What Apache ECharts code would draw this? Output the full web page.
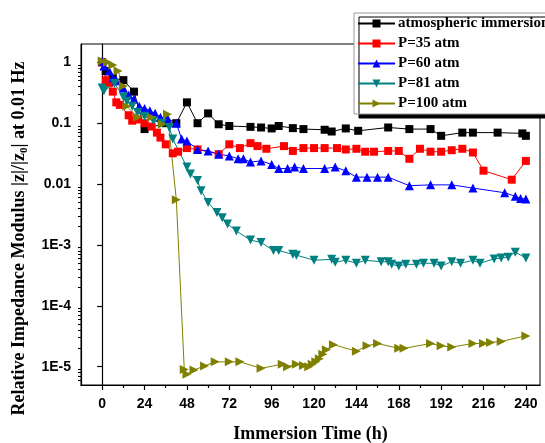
<!DOCTYPE html>
<html lang="en">
<head>
    <meta charset="UTF-8">
    <title>impedance_modulus</title>
    <script src="https://cdn.jsdelivr.net/npm/echarts@6/dist/echarts.min.js"></script>
    <style>
        html,body{margin:0;padding:0;background:#fff}
        #chart{width:545px;height:443px}
    </style>
</head>
<body>
    <div id="chart"></div>
    <script>
        // data: [time (h), |z|/|z0|]
        var names = ['atmospheric immersion', 'P=35 atm', 'P=60 atm', 'P=81 atm', 'P=100 atm'];
        var atmospheric = [[0,1.0],[2,0.72],[6,0.55],[12,0.51],[18,0.33],[24,0.08],[36,0.1],[42,0.1],[48,0.22],[54,0.1],[60,0.145],[66,0.096],[72,0.09],[84,0.087],[90,0.085],[96,0.082],[100,0.09],[108,0.083],[114,0.08],[126,0.078],[130,0.073],[138,0.082],[145,0.075],[162,0.085],[174,0.08],[186,0.08],[192,0.062],[204,0.07],[210,0.07],[224,0.07],[238,0.068],[240,0.062]];
        var p35 = [[0,1.0],[2,0.51],[4,0.46],[6,0.33],[8,0.22],[10,0.2],[15,0.135],[17,0.11],[20,0.115],[24,0.1],[28,0.088],[31,0.07],[33,0.058],[36,0.045],[40,0.032],[43,0.034],[48,0.039],[54,0.037],[66,0.031],[72,0.045],[78,0.039],[84,0.047],[88,0.042],[93,0.038],[103,0.042],[108,0.035],[114,0.039],[120,0.039],[126,0.039],[133,0.039],[138,0.037],[144,0.038],[149,0.034],[154,0.034],[162,0.035],[168,0.035],[174,0.026],[180,0.038],[186,0.034],[192,0.034],[198,0.036],[204,0.038],[210,0.033],[216,0.0166],[232,0.0118],[240,0.024]];
        var p60 = [[0,1.05],[1,0.87],[4,0.72],[6,0.56],[8,0.5],[12,0.38],[15,0.29],[18,0.25],[21,0.19],[24,0.175],[27,0.16],[30,0.145],[33,0.125],[37,0.12],[42,0.1],[45,0.055],[48,0.051],[54,0.037],[60,0.035],[66,0.031],[72,0.029],[77,0.026],[80,0.026],[84,0.023],[90,0.024],[96,0.021],[100,0.018],[105,0.018],[109,0.019],[114,0.018],[126,0.018],[132,0.019],[138,0.0165],[144,0.013],[150,0.013],[156,0.013],[162,0.013],[174,0.0094],[186,0.0097],[198,0.0097],[210,0.0086],[228,0.0072],[234,0.0063],[237,0.0058],[240,0.0057]];
        var p81 = [[0,0.38],[1,0.34],[7,0.45],[12,0.27],[14,0.23],[17,0.19],[20,0.15],[24,0.13],[29,0.11],[34,0.1],[38,0.085],[40,0.055],[48,0.019],[50,0.0146],[54,0.0114],[56,0.0078],[60,0.005],[65,0.0034],[68,0.0028],[71,0.0022],[76,0.0017],[84,0.0012],[90,0.0011],[97,0.00081],[100,0.00081],[108,0.0007],[110,0.00068],[120,0.00056],[130,0.00058],[132,0.00052],[138,0.00056],[144,0.0005],[149,0.00056],[158,0.00053],[162,0.00053],[164,0.00048],[168,0.00045],[172,0.00048],[178,0.00048],[182,0.0005],[188,0.0005],[192,0.00045],[198,0.00053],[203,0.0005],[210,0.00056],[214,0.0005],[222,0.00059],[226,0.00061],[230,0.00063],[234,0.00076],[240,0.00061]];
        var p100 = [[0,1.05],[3,1.0],[6,0.9],[9,0.72],[12,0.41],[14,0.19],[20,0.125],[28,0.125],[34,0.096],[37,0.14],[42,0.0055],[46.5,9e-6],[48,7.5e-6],[52,8.8e-6],[58,1.03e-5],[64,1.2e-5],[72,1.2e-5],[78,1.2e-5],[90,9.4e-6],[102,1.1e-5],[105,1.0e-5],[110,1.1e-5],[114,1.05e-5],[117,1.0e-5],[119,1.1e-5],[121,1.2e-5],[123,1.35e-5],[125,1.6e-5],[127,1.9e-5],[131,2.3e-5],[144,1.8e-5],[150,2.2e-5],[156,2.4e-5],[168,2e-5],[171,2e-5],[186,2.4e-5],[192,2.2e-5],[198,2.1e-5],[210,2.4e-5],[216,2.4e-5],[220,2.5e-5],[226,2.6e-5],[240,3.2e-5]];
        var xLabels = [0,24,48,72,96,120,144,168,192,216,240];
        var xMinor = [12,36,60,84,108,132,156,180,204,228];
        var yMinor = [6e-6,7e-6,8e-6,9e-6,
            2e-5,3e-5,4e-5,5e-5,6e-5,7e-5,8e-5,9e-5,
            2e-4,3e-4,4e-4,5e-4,6e-4,7e-4,8e-4,9e-4,
            2e-3,3e-3,4e-3,5e-3,6e-3,7e-3,8e-3,9e-3,
            0.02,0.03,0.04,0.05,0.06,0.07,0.08,0.09,
            0.2,0.3,0.4,0.5,0.6,0.7,0.8,0.9];
        var yMin = 5e-6, yMax = 2;

        var allData = [atmospheric, p35, p60, p81, p100];
        var colors = ['#000000', '#ff0000', '#0000ff', '#008080', '#808000'];
        var symbols = ['rect', 'rect', 'triangle', 'triangle', 'triangle'];
        var rotates = [0, 0, 0, 180, -90];
        var sizes = [8, 8, 9, 9, 9];

        var series = [];
        for (var i = 0; i < allData.length; i++) {
            series.push({
                name: names[i],
                type: 'line',
                data: allData[i],
                symbol: symbols[i],
                symbolRotate: rotates[i],
                symbolSize: sizes[i],
                showAllSymbol: true,
                clip: false,
                itemStyle: {color: colors[i]},
                lineStyle: {color: colors[i], width: 1}
            });
        }

        var mychart = echarts.init(document.getElementById('chart'));
        var option = {
            animation: false,
            color: colors,
            grid: {
                left: 81, top: 44, right: 5, bottom: 58,
                containLabel: false,
                outerBoundsMode: 'none',
                show: true, borderColor: '#000', borderWidth: 1
            },
            legend: {
                orient: 'vertical',
                left: 354, top: 13,
                padding: [3, 10, 3, 3],
                itemGap: 5,
                itemWidth: 37,
                itemHeight: 10,
                backgroundColor: '#fff',
                borderColor: '#999',
                borderWidth: 1,
                shadowColor: '#000',
                shadowBlur: 0,
                shadowOffsetX: 5,
                shadowOffsetY: 4,
                textStyle: {
                    fontFamily: 'Liberation Serif', fontWeight: 'bold', fontSize: 15,
                    color: '#000', lineHeight: 14, padding: [0, 0, 0, -2]
                },
                data: names
            },
            xAxis: [{
                type: 'value',
                min: -12, max: 248,
                name: 'Immersion Time (h)',
                nameLocation: 'middle',
                nameGap: 40,
                nameTextStyle: {fontFamily: 'Liberation Serif', fontWeight: 'bold', fontSize: 18, color: '#000'},
                splitLine: {show: false},
                axisLine: {onZero: false, lineStyle: {color: '#000', width: 1.2}},
                axisTick: {customValues: xLabels, length: 5, lineStyle: {color: '#000', width: 1.2}},
                axisLabel: {
                    customValues: xLabels,
                    margin: 12,
                    fontFamily: 'Liberation Sans', fontWeight: 'bold', fontSize: 14, color: '#000'
                }
            }, {
                // minor ticks every 12 h
                type: 'value',
                position: 'bottom',
                offset: 0,
                min: -12, max: 248,
                axisLine: {show: true, onZero: false, lineStyle: {color: '#000', width: 1.2}},
                splitLine: {show: false},
                axisTick: {show: true, customValues: xMinor, length: 3, lineStyle: {color: '#000', width: 1.2}},
                axisLabel: {show: true, customValues: xMinor, formatter: function () { return ''; }}
            }],
            yAxis: [{
                type: 'log',
                logBase: 10,
                min: yMin, max: yMax,
                name: 'Relative Impedance Modulus {n||z|/|z}{s|0}{n|| at 0.01 Hz}',
                nameLocation: 'middle',
                nameGap: 51,
                nameTextStyle: {
                    fontFamily: 'Liberation Serif', fontWeight: 'bold', fontSize: 18, color: '#000',
                    padding: [0, 48, 0, 0],
                    rich: {
                        n: {fontFamily: 'Liberation Serif', fontWeight: 'bold', fontSize: 18, color: '#000'},
                        s: {fontFamily: 'Liberation Serif', fontWeight: 'bold', fontSize: 11, color: '#000', padding: [10, 0, 0, 0]}
                    }
                },
                splitLine: {show: false},
                axisLine: {lineStyle: {color: '#000', width: 1.2}},
                axisTick: {length: 5, lineStyle: {color: '#000', width: 1.2}},
                axisLabel: {
                    showMinLabel: false, showMaxLabel: false,
                    margin: 10,
                    fontFamily: 'Liberation Sans', fontWeight: 'bold', fontSize: 14, color: '#000',
                    formatter: function (v) {
                        if (v >= 0.01) return String(+v.toPrecision(3));
                        return '1E' + Math.round(Math.log(v) / Math.LN10);
                    }
                }
            }, {
                // minor log ticks, drawn on a linear axis in log10 units
                type: 'value',
                position: 'left',
                offset: 0,
                min: Math.log10(yMin), max: Math.log10(yMax),
                axisLine: {show: true, onZero: false, lineStyle: {color: '#000', width: 1.2}},
                splitLine: {show: false},
                axisTick: {show: true, customValues: yMinor.map(function (v) { return Math.log10(v); }), length: 3, lineStyle: {color: '#000', width: 1}},
                axisLabel: {show: true, customValues: yMinor.map(function (v) { return Math.log10(v); }), formatter: function () { return ''; }}
            }],
            series: series
        };
        mychart.setOption(option);
    </script>
</body>
</html>
